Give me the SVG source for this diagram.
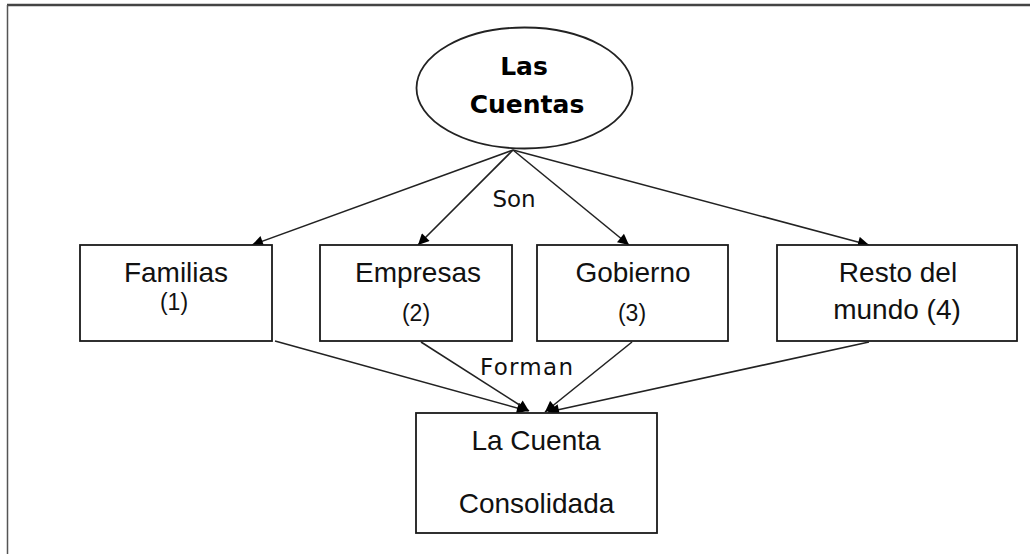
<svg xmlns="http://www.w3.org/2000/svg" width="1030" height="554" viewBox="0 0 1030 554">
<style>
.box{fill:#fff;stroke:#1a1a1a;stroke-width:1.8}
.t{font-family:"Liberation Sans",Arial,sans-serif;font-size:28px;fill:#111;text-anchor:middle}
.n{font-family:"Liberation Sans",Arial,sans-serif;font-size:23px;fill:#111;text-anchor:middle}
.b{font-family:"DejaVu Sans",Verdana,sans-serif;font-size:25px;font-weight:bold;fill:#000;text-anchor:middle}
.l{font-family:"DejaVu Sans",Verdana,sans-serif;font-size:23px;fill:#111;text-anchor:middle}
.c{stroke:#222;stroke-width:1.6;fill:none;marker-end:url(#ah)}
</style>
<defs>
<marker id="ah" viewBox="0 0 10 10" refX="10" refY="5" markerWidth="13" markerHeight="11" markerUnits="userSpaceOnUse" orient="auto">
<path d="M0,0 L10,5 L0,10 z" fill="#000"/>
</marker>
</defs>
<rect width="1030" height="554" fill="#fff"/>
<g id="frame">
<line x1="7" y1="5" x2="1030" y2="5" stroke="#444" stroke-width="2.5"/>
<line x1="7.5" y1="5" x2="7.5" y2="554" stroke="#555" stroke-width="1.5"/>
</g>
<g id="connectors">
<line class="c" x1="513" y1="150" x2="252" y2="245"/>
<line class="c" x1="513" y1="150" x2="418" y2="245"/>
<line class="c" x1="513" y1="150" x2="629" y2="245"/>
<line class="c" x1="513" y1="150" x2="869" y2="245"/>
<line class="c" x1="275" y1="341" x2="528" y2="411"/>
<line class="c" x1="421" y1="342" x2="529" y2="411"/>
<line class="c" x1="632" y1="342" x2="545" y2="412"/>
<line class="c" x1="869" y1="342" x2="548" y2="412"/>
<text class="l" x="514" y="207">Son</text>
<text class="l" x="526.5" y="375" textLength="93" lengthAdjust="spacing">Forman</text>
</g>
<g id="las-cuentas">
<ellipse cx="524.5" cy="88" rx="108" ry="60.5" fill="#fff" stroke="#222" stroke-width="1.8"/>
<text class="b" x="524" y="75">Las</text>
<text class="b" x="527" y="113">Cuentas</text>
</g>
<g id="familias">
<rect class="box" x="80" y="245" width="192" height="96"/>
<text class="t" x="176" y="282">Familias</text>
<text class="n" x="174" y="310">(1)</text>
</g>
<g id="empresas">
<rect class="box" x="320" y="245" width="192" height="96"/>
<text class="t" x="418" y="282">Empresas</text>
<text class="n" x="416" y="321">(2)</text>
</g>
<g id="gobierno">
<rect class="box" x="537" y="245" width="191" height="96"/>
<text class="t" x="633" y="282">Gobierno</text>
<text class="n" x="632" y="321">(3)</text>
</g>
<g id="resto">
<rect class="box" x="777" y="245" width="240" height="96"/>
<text class="t" x="898" y="282">Resto del</text>
<text class="t" x="897" y="319">mundo (4)</text>
</g>
<g id="la-cuenta">
<rect class="box" x="416" y="413" width="241" height="120"/>
<text class="t" x="536" y="450">La Cuenta</text>
<text class="t" x="536.5" y="513">Consolidada</text>
</g>
</svg>
